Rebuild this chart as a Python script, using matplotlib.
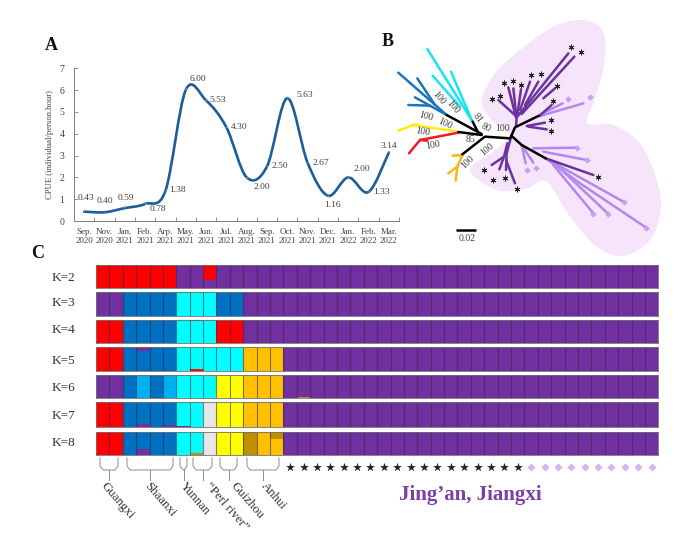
import matplotlib
matplotlib.use("Agg")
import matplotlib.pyplot as plt
from matplotlib.path import Path
from matplotlib.patches import PathPatch

plt.rcParams['font.family'] = ['Liberation Serif', 'DejaVu Serif']

W, H = 695, 541

# panel A
months = ["Sep.\n2020", "Nov.\n2020", "Jan.\n2021", "Feb.\n2021", "Arp.\n2021", "May.\n2021", "Jun.\n2021", "Jul.\n2021",
          "Aug.\n2021", "Sep.\n2021", "Oct.\n2021", "Nov.\n2021", "Dec.\n2021", "Jan.\n2022", "Feb.\n2022", "Mar.\n2022"]
cpue = [0.43, 0.40, 0.59, 0.78, 1.38, 6.00, 5.53, 4.30, 2.00, 2.50, 5.63, 2.67, 1.16, 2.00, 1.33, 3.14]
# where the value labels sit relative to the point, in pixels
label_dx = [2, 0, 1, 13, 12, 12, 12, 13, 15, 13, 17, 13, 5, 14, 13, 0]
label_dy = [14, 11, 10, -5, 1, 11, 0, 0, -10, 0, 3, 0, -9, 8, 0, 7]

# panel B, node coordinates (3x crop pixels)
black_branches = [[(305, 375), (235, 366)], [(315, 380), (390, 385)], [(305, 372), (200, 315)], [(293, 365), (278, 335)],
                  [(312, 382), (247, 433)], [(392, 382), (405, 352), (475, 318)], [(395, 378), (425, 405), (497, 445)]]
blue_branches = [[(200, 315), (55, 188)], [(165, 285), (112, 205)], [(200, 315), (150, 287), (105, 262)], [(150, 287), (85, 285)]]
cyan_branches = [[(278, 335), (142, 117)], [(275, 330), (213, 185)], [(240, 290), (158, 197)]]
yellow_branches = [[(235, 365), (100, 345), (55, 362)], [(100, 345), (112, 342)]]
red_branches = [[(235, 368), (120, 390), (87, 430)], [(120, 390), (142, 392)]]
orange_branches = [[(247, 435), (232, 470), (205, 490)], [(232, 470), (227, 512)], [(247, 435), (218, 437)]]
dark_branches = [[(408, 350), (410, 320), (355, 270)], [(408, 322), (385, 232)], [(408, 310), (400, 235)], [(412, 315), (423, 238)],
                 [(420, 300), (450, 215)], [(435, 285), (475, 215)], [(412, 320), (565, 130)], [(425, 312), (583, 140)],
                 [(490, 265), (525, 235)], [(440, 348), (495, 338)], [(445, 350), (500, 358)], [(478, 318), (515, 285)],
                 [(392, 385), (380, 430), (378, 480)], [(382, 400), (372, 440), (335, 465)], [(372, 440), (358, 478)],
                 [(378, 450), (405, 520)], [(497, 445), (640, 495)]]
light_branches = [[(478, 315), (548, 280)], [(480, 318), (610, 280)], [(425, 405), (437, 460)], [(428, 410), (460, 458)],
                  [(460, 415), (590, 413)], [(490, 425), (620, 450)], [(497, 445), (730, 575)], [(520, 465), (640, 610)],
                  [(545, 480), (683, 610)], [(497, 445), (600, 520), (797, 652)]]
tree_stars = [(572, 110), (604, 127), (454, 196), (483, 193), (530, 228), (372, 220), (398, 212), (423, 226), (336, 267), (361, 258),
              (520, 272), (513, 331), (513, 364), (653, 500), (312, 481), (339, 511), (376, 504), (410, 537)]
tree_diamonds = [(563, 268), (630, 262), (590, 413), (620, 450), (442, 481), (468, 473), (733, 575), (640, 613), (683, 613), (797, 653)]
shade_outline = [(305, 275), (345, 190), (420, 120), (520, 50), (600, 30), (660, 50), (677, 110), (665, 200), (640, 280), (622, 340),
                 (700, 345), (780, 400), (830, 510), (842, 600), (810, 690), (730, 738), (650, 710), (570, 620), (500, 515),
                 (440, 535), (350, 540), (270, 480), (340, 425), (388, 375), (340, 335)]
support_text = ["100", "100", "100", "100", "100", "100", "100", "100", "85", "81", "80", "100"]
support_x = [177, 218, 138, 195, 128, 158, 263, 322, 270, 292, 318, 366]
support_y = [265, 292, 318, 340, 365, 405, 455, 418, 390, 323, 353, 356]
support_rot = [-50, -50, -15, -25, -10, 10, 45, 40, 0, -50, -25, 0]

# panel C, one letter per individual
k_labels = ["K=2", "K=3", "K=4", "K=5", "K=6", "K=7", "K=8"]
k_label_y = [278, 303, 330, 361, 388, 416, 443]
k_main = ["RRRRRR" + "PP" + "R" + "P" * 33,
          "PP" + "BBBB" + "CCC" + "BB" + "P" * 31,
          "RR" + "BBBB" + "CCC" + "RR" + "P" * 31,
          "RR" + "BBBB" + "CCCCC" + "OOO" + "P" * 28,
          "PP" + "BLBL" + "CCC" + "YY" + "OOO" + "P" * 28,
          "RR" + "BBBB" + "CC" + "G" + "YY" + "OOO" + "P" * 28,
          "RR" + "BBBB" + "CC" + "G" + "YY" + "DOO" + "P" * 28]
# minor ancestry: row, individual, letter, fraction, end of the bar
k_minor = [(0, 8, "P", 0.35, "bottom"), (2, 7, "P", 0.04, "top"), (3, 3, "P", 0.15, "top"), (3, 7, "R", 0.07, "bottom"),
           (3, 8, "O", 0.04, "top"), (4, 8, "O", 0.03, "top"), (4, 15, "D", 0.04, "bottom"), (4, 22, "D", 0.03, "bottom"),
           (4, 26, "D", 0.03, "bottom"), (4, 31, "D", 0.03, "bottom"), (4, 36, "D", 0.03, "bottom"),
           (5, 3, "P", 0.10, "bottom"), (5, 5, "P", 0.09, "bottom"), (5, 6, "P", 0.03, "bottom"),
           (6, 3, "P", 0.24, "bottom"), (6, 7, "D", 0.07, "bottom"), (6, 13, "D", 0.30, "top")]
k_colors = {"R": "#FF0000", "P": "#7030A0", "B": "#0070C0", "C": "#00FFFF", "O": "#FFC000",
            "Y": "#FFFF00", "L": "#00B0F0", "G": "#E7E6E6", "D": "#BF9000"}
row_top = [265, 292.3, 320, 347.3, 375, 402.3, 431.7]
row_bottom = [288.3, 315.7, 343.3, 370.7, 398.3, 426.7, 455]

group_names = ["Guangxi", "Shaanxi", "Yunnan", "\u201cPerl river\u201d", "Guizhou", "Anhui"]
group_left = [100, 127, 180, 193, 220, 247]
group_right = [118, 173, 187, 212, 237, 279]
group_stem = [109, 150, 184, 203, 229, 263]
group_label_x = [103, 146, 182, 207, 233, 263]
n_star = 18
n_diamond = 10
n_ind = 42


def px_axes(fig, left, top, right, bottom):
    return fig.add_axes([left / W, 1 - bottom / H, (right - left) / W, (bottom - top) / H])


def smooth_path(xs, ys):
    # same kind of smoothing a spreadsheet line chart uses
    verts = [(xs[0], ys[0])]
    codes = [Path.MOVETO]
    n = len(xs)
    for i in range(n - 1):
        x0, y0 = xs[max(i - 1, 0)], ys[max(i - 1, 0)]
        x3, y3 = xs[min(i + 2, n - 1)], ys[min(i + 2, n - 1)]
        c1 = (xs[i] + (xs[i + 1] - x0) / 6, ys[i] + (ys[i + 1] - y0) / 6)
        c2 = (xs[i + 1] - (x3 - xs[i]) / 6, ys[i + 1] - (y3 - ys[i]) / 6)
        verts += [c1, c2, (xs[i + 1], ys[i + 1])]
        codes += [Path.CURVE4] * 3
    return Path(verts, codes)


def closed_smooth(points):
    verts = [points[0]]
    codes = [Path.MOVETO]
    n = len(points)
    for i in range(n):
        p0, p1, p2, p3 = points[i - 1], points[i], points[(i + 1) % n], points[(i + 2) % n]
        verts.append((p1[0] + (p2[0] - p0[0]) / 6, p1[1] + (p2[1] - p0[1]) / 6))
        verts.append((p2[0] - (p3[0] - p1[0]) / 6, p2[1] - (p3[1] - p1[1]) / 6))
        verts.append(p2)
        codes += [Path.CURVE4] * 3
    return Path(verts, codes)


fig = plt.figure(figsize=(W / 100, H / 100), dpi=100)

# A: CPUE line
ax_a = px_axes(fig, 74, 68.3, 399, 221)
xs = list(range(len(cpue)))
ax_a.add_patch(PathPatch(smooth_path(xs, cpue), fill=False, edgecolor="#1B5E9B", lw=1.9, capstyle="round"))
ax_a.set_xlim(-0.5, 15.5)
ax_a.set_ylim(0, 7)
ax_a.set_xticks([i - 0.5 for i in range(17)], minor=False)
ax_a.set_xticklabels([""] * 17)
ax_a.set_yticks(range(8))
ax_a.tick_params(axis="both", direction="in", length=3, width=0.6, color="#808080", labelsize=7, labelcolor="#404040", pad=7)
for s in ["top", "right"]:
    ax_a.spines[s].set_visible(False)
for s in ["left", "bottom"]:
    ax_a.spines[s].set_color("#808080")
    ax_a.spines[s].set_linewidth(0.7)
for i, m in enumerate(months):
    ax_a.annotate(m, (i, 0), xytext=(0, -5), textcoords="offset points", ha="center", va="top",
                  fontsize=6.5, color="#404040", linespacing=1.15, annotation_clip=False)
for i, v in enumerate(cpue):
    ax_a.annotate(f"{v:.2f}", (i, v), xytext=(label_dx[i] * 0.72, label_dy[i] * 0.72), textcoords="offset points",
                  ha="center", va="center", fontsize=6.8, color="#404040",
                  arrowprops=dict(arrowstyle="-", color="#C8C8C8", lw=0.5, shrinkA=3, shrinkB=0))
ax_a.set_ylabel("CPUE (individual/person.hour)", fontsize=6.2, color="#404040", labelpad=4)

# B: tree, drawn on the crop's pixel grid
ax_b = px_axes(fig, 380, 10, 680, 260)
ax_b.set_xlim(0, 900)
ax_b.set_ylim(750, 0)
ax_b.axis("off")
ax_b.add_patch(PathPatch(closed_smooth(shade_outline), facecolor="#F6E4FA", edgecolor="none", zorder=1))
branch_sets = [(blue_branches, "#1B75BB"), (cyan_branches, "#18E3F2"), (yellow_branches, "#FFEE10"), (red_branches, "#EE1C25"),
               (orange_branches, "#FBB517"), (light_branches, "#B388EE"), (dark_branches, "#6B339D"), (black_branches, "#000000")]
for branches, col in branch_sets:
    for br in branches:
        ax_b.plot([p[0] for p in br], [p[1] for p in br], color=col, lw=1.8, solid_capstyle="round", solid_joinstyle="round", zorder=3)
ax_b.scatter([p[0] for p in tree_diamonds], [p[1] for p in tree_diamonds], marker="D", s=11, color="#C9A0F2", linewidths=0, zorder=4)
ax_b.scatter([p[0] for p in tree_stars], [p[1] for p in tree_stars], marker=(6, 2, 0), s=13, color="#222222", linewidths=0.7, zorder=5)
for t, x, y, r in zip(support_text, support_x, support_y, support_rot):
    ax_b.text(x, y, t, rotation=r, ha="center", va="center", fontsize=7, color="#404040", zorder=6)
ax_b.plot([228, 288], [660, 660], color="black", lw=1.8, solid_capstyle="butt", zorder=3)
ax_b.text(262, 686, "0.02", ha="center", va="center", fontsize=7, color="#404040")

# C: structure bars
for r in range(len(k_main)):
    ax = px_axes(fig, 96, row_top[r], 658.3, row_bottom[r])
    for i, letter in enumerate(k_main[r]):
        minors = [m for m in k_minor if m[0] == r and m[1] == i]
        bottom = 0
        top = 1
        for m in minors:
            if m[4] == "bottom":
                ax.bar(i + 0.5, m[3], 1, bottom=0, color=k_colors[m[2]], linewidth=0)
                bottom = m[3]
            else:
                ax.bar(i + 0.5, m[3], 1, bottom=1 - m[3], color=k_colors[m[2]], linewidth=0)
                top = 1 - m[3]
        ax.bar(i + 0.5, top - bottom, 1, bottom=bottom, color=k_colors[letter], linewidth=0)
    ax.vlines(range(1, n_ind), 0, 1, color="#3A2A4A", lw=0.8, alpha=0.6)
    ax.set_xlim(0, n_ind)
    ax.set_ylim(0, 1)
    ax.set_xticks([])
    ax.set_yticks([])
    for s in ax.spines.values():
        s.set_color("#707070")
        s.set_linewidth(0.6)
    fig.text(63 / W, 1 - k_label_y[r] / H, k_labels[r], ha="center", va="center", fontsize=9.5, color="#303030")

# overlay for brackets, group names and panel letters
ov = fig.add_axes([0, 0, 1, 1])
ov.set_xlim(0, W)
ov.set_ylim(H, 0)
ov.axis("off")
ov.patch.set_alpha(0)
for name, l, r, st, lx in zip(group_names, group_left, group_right, group_stem, group_label_x):
    ov.plot([l, l, l + 3, r - 3, r, r], [458, 466, 470, 470, 466, 458], color="#8C8C8C", lw=0.7)
    ov.plot([st, st], [470, 480], color="#8C8C8C", lw=0.7)
    ov.text(lx, 484, name, rotation=-49, rotation_mode="anchor", ha="left", va="center", fontsize=9.3, color="#303030")
col_w = (658.3 - 96) / n_ind
for i in range(14, 14 + n_star):
    ov.scatter(96 + (i + 0.5) * col_w, 467, marker="*", s=45, color="#222222", linewidths=0)
for i in range(14 + n_star, 14 + n_star + n_diamond):
    ov.scatter(96 + (i + 0.5) * col_w, 467, marker="D", s=17, color="#D5B3F5", linewidths=0)
ov.text(470, 495, "Jing\u2019an, Jiangxi", ha="center", va="center", fontsize=15, fontweight="bold", color="#7B3FA6")
ov.text(51, 46, "A", ha="center", va="center", fontsize=13, fontweight="bold", color="#111111")
ov.text(388, 41, "B", ha="center", va="center", fontsize=13, fontweight="bold", color="#111111")
ov.text(38, 253, "C", ha="center", va="center", fontsize=13, fontweight="bold", color="#111111")

fig.savefig("out.png", dpi=100)
